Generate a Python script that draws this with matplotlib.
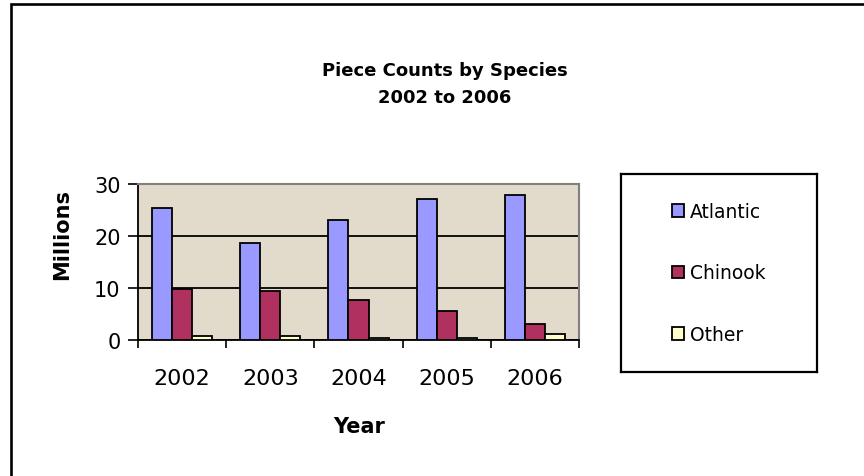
import numpy as np
import matplotlib
matplotlib.use("Agg")
from matplotlib import pyplot as plt
from matplotlib.lines import Line2D

# Chart data (millions of pieces)
years = ["2002", "2003", "2004", "2005", "2006"]
atlantic = [25.4, 18.6, 23.1, 27.1, 27.9]
chinook = [9.8, 9.5, 7.6, 5.6, 3.1]
other = [0.8, 0.7, 0.45, 0.3, 1.15]

series_names = ["Atlantic", "Chinook", "Other"]
series_values = [atlantic, chinook, other]
series_colors = ["#9999FF", "#B0305F", "#FFFFCC"]

W, H = 864, 477
fig = plt.figure(figsize=(W / 100, H / 100), dpi=100)
fig.patch.set_facecolor("white")


def px_box(left, top, right, bottom):
    # Convert a pixel box (origin top-left) into figure fractions
    return [left / W, 1 - bottom / H, (right - left) / W, (bottom - top) / H]


# Outer chart frame: only left and top edges are visible
fig.add_artist(Line2D([10.5 / W, 10.5 / W, 1.0], [0.0, 1 - 5 / H, 1 - 5 / H],
                      transform=fig.transFigure, color="black", linewidth=1.9,
                      solid_joinstyle="miter"))

# Plot area
ax = fig.add_axes(px_box(138, 185, 579, 341))
ax.set_facecolor("#E2DACB")

x = np.arange(len(years))
bar_width = 0.227
handles = []
for i, (name, values, color) in enumerate(zip(series_names, series_values, series_colors)):
    bars = ax.bar(x + (i - 1) * bar_width, values, width=bar_width, color=color,
                  edgecolor="black", linewidth=1.3, label=name, zorder=3)
    handles.append(bars)

ax.set_xlim(-0.5, len(years) - 0.5)
ax.set_ylim(0, 30)

# Gridlines
ax.set_yticks([0, 10, 20, 30])
ax.yaxis.grid(True, color="black", linewidth=1.3)
ax.set_axisbelow(True)

# Spines: black left/bottom, gray top/right
for side in ["left", "bottom"]:
    ax.spines[side].set_color("black")
    ax.spines[side].set_linewidth(1.3)
for side in ["top", "right"]:
    ax.spines[side].set_color("#808080")
    ax.spines[side].set_linewidth(1.5)

# Y ticks
ax.tick_params(axis="y", direction="out", length=7, width=1.2, pad=5.5,
               labelsize=15, color="black")

# X ticks: marks between categories, labels at the centres
ax.set_xticks(np.arange(-0.5, len(years)), labels=[""] * (len(years) + 1))
ax.tick_params(axis="x", which="major", direction="out", length=6, width=1.2)
ax.set_xticks(x, labels=years, minor=True)
ax.tick_params(axis="x", which="minor", length=0, pad=20, labelsize=16)

# Titles and axis labels
fig.text(445 / W, 1 - 76 / H, "Piece Counts by Species", ha="center", va="baseline",
         fontsize=13, fontweight="bold")
fig.text(445 / W, 1 - 103 / H, "2002 to 2006", ha="center", va="baseline",
         fontsize=13, fontweight="bold")
fig.text(62 / W, 1 - 234 / H, "Millions", rotation=90, ha="center", va="center",
         fontsize=15, fontweight="bold")
fig.text(359 / W, 1 - 433 / H, "Year", ha="center", va="baseline",
         fontsize=15, fontweight="bold")

# Legend box drawn as its own axes
lax = fig.add_axes(px_box(621, 175, 817, 373))
lax.set_xticks([])
lax.set_yticks([])
for spine in lax.spines.values():
    spine.set_color("black")
    spine.set_linewidth(1.6)
lax.legend(handles, series_names, loc="center", frameon=False, fontsize=13.5,
           labelspacing=2.27, handlelength=0.65, handleheight=0.65,
           handletextpad=0.3)

plt.savefig("out.png", dpi=100, facecolor="white")
plt.close()
